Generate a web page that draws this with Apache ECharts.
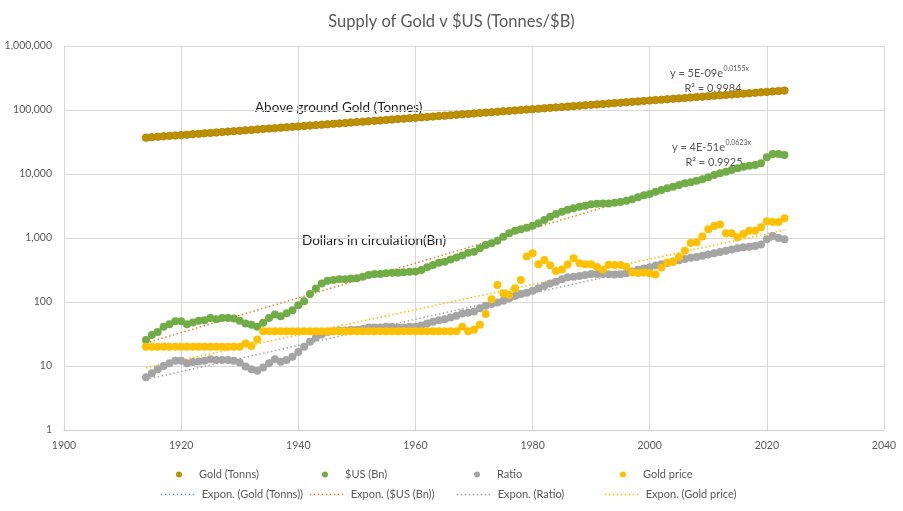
<!DOCTYPE html>
<html>
<head>
<meta charset="utf-8">
<script src="https://cdn.jsdelivr.net/npm/echarts@6/dist/echarts.min.js"></script>
<style>
html,body{margin:0;padding:0;background:#fff;}
#chart{width:903px;height:511px;}
</style>
</head>
<body>
<div id="chart"></div>
<script>
// ---- data ----
const startYear = 1914; // 1914 .. 2023, one value per year
const goldTonnes = [
37000,37600,38200,38800,39400,40000,40600,41200,41900,42500,
43200,43900,44500,45200,46000,46700,47400,48200,48900,49700,
50500,51200,52000,52900,53700,54500,55400,56200,57100,58000,
58900,59800,60800,61700,62700,63700,64700,65700,66700,67800,
68800,69900,71000,72100,73200,74400,75500,76700,77900,79100,
80400,81600,82900,84200,85500,86900,88200,89600,91000,92400,
93900,95400,96900,98400,99900,101500,103100,104700,106300,108000,
109700,111400,113100,114900,116700,118500,120400,122300,124200,126100,
128100,130100,132100,134200,136300,138400,140600,142800,145000,147300,
149600,151900,154300,156700,159200,161700,164200,166800,169400,172000,
174700,177400,180200,183000,185900,188800,191700,194700,197800,201000
];
const usBn = [
25.5,30.5,34,41,45,50,50,45,48,51,
52,56,54,56,56,55,51,46,44,41,
47.5,56,64,60,66.5,74,89,103,133,163,
195,214,220,226,226,232,234,249,264,275,
275,281,287,287,291,298,300,316,349,378,
411,427,460,495,535,589,611,690,777,826,
908,1048,1183,1303,1366,1448,1556,1698,1906,2154,
2371,2573,2754,2913,3090,3200,3360,3420,3450,3450,
3560,3650,3830,4020,4320,4640,4870,5300,5620,5970,
6340,6720,7150,7410,7870,8260,8880,9640,10240,10870,
11550,12270,13030,13500,13800,14700,18200,20500,20500,19800
];
const ratio = [
6.7,7.7,8.9,10,11,12.1,12.1,11,11.5,11.8,
12.1,12.7,12.4,12.4,12.4,12.1,11.3,9.8,8.9,8.4,
9.5,11,12.7,11.7,12.4,14,16.5,20,24,28,
31,34,35,36,36,37,37,38,40,40,
40,41,41,40,40,41,41,43,46,49,
52,54,57,61,66,68,71,80,87,93,
98,105,114,124,133,140,150,164,178,195,
208,226,243,249,255,264,274,274,274,272,
270,272,281,300,318,335,350,372,390,408,
430,450,470,490,505,530,550,580,605,630,
660,690,716,733,750,790,954,1075,1000,960
];
const goldPrice = [
20,20,20,20,20,20,20,20,20,20,
20,20,20,20,20,20,20,22.5,20.5,26,
35,35,35,35,35,35,35,35,35,35,
35,35,35,35,35,35,35,35,35,35,
35,35,35,35,35,35,35,35,35,35,
35,35,35,35,41,35,37,44,65,110,
185,137,130,164,221,515,580,388,453,375,
305,322,385,481,402,388,388,352,322,383,
378,377,355,290,284,288,282,270,346,415,
420,505,634,835,862,1060,1366,1540,1625,1182,
1182,1025,1155,1296,1296,1468,1830,1775,1775,2030
];
const xTicks = {min: 1900, max: 2040, interval: 20};
const yRange = {min: 1, max: 1000000};

const seriesDefs = [
  {name: 'Gold (Tonns)', values: goldTonnes, color: '#BF9000', trend: 'Expon. (Gold (Tonns))', trendColor: '#5B9BD5'},
  {name: '$US (Bn)', values: usBn, color: '#70AD47', trend: 'Expon. ($US (Bn))', trendColor: '#ED7D31'},
  {name: 'Ratio', values: ratio, color: '#A5A5A5', trend: 'Expon. (Ratio)', trendColor: '#A5A5A5'},
  {name: 'Gold price', values: goldPrice, color: '#FFC000', trend: 'Expon. (Gold price)', trendColor: '#FFC000'}
];

// exponential least-squares fit (Excel "Expon." trendline)
function expFit(vals) {
  let n = 0, sx = 0, sy = 0, sxx = 0, sxy = 0;
  vals.forEach((v, i) => {
    const x = startYear + i, y = Math.log(v);
    n++; sx += x; sy += y; sxx += x * x; sxy += x * y;
  });
  const b = (n * sxy - sx * sy) / (n * sxx - sx * sx);
  const lnA = (sy - b * sx) / n;
  return {b, lnA};
}

const FONT = 'Lato, "Open Sans", sans-serif';
const series = [];
// trend lines first (drawn beneath the markers)
seriesDefs.forEach(d => {
  const f = expFit(d.values);
  const pts = d.values.map((v, i) => {
    const x = startYear + i;
    return [x, Math.exp(f.lnA + f.b * x)];
  });
  series.push({
    name: d.trend, type: 'line', data: pts, symbol: 'none', showSymbol: false,
    lineStyle: {color: d.trendColor, width: 1.5, type: [1.5, 2.5], cap: 'butt'},
    itemStyle: {color: d.trendColor},
    silent: true, z: 2
  });
});
seriesDefs.forEach(d => {
  series.push({
    name: d.name, type: 'scatter',
    data: d.values.map((v, i) => [startYear + i, v]),
    symbol: 'circle', symbolSize: d.name === 'Gold (Tonns)' ? 7.5 : 8,
    itemStyle: {color: d.color, opacity: 1,
      borderColor: d.name === 'Gold (Tonns)' ? '#A88000' : d.color, borderWidth: d.name === 'Gold (Tonns)' ? 0.8 : 0},
    z: 3
  });
});

const legendText = {color: '#595959', fontSize: 11, fontFamily: FONT};
const row1Left = [176, 322, 474, 620];
const row2Left = [160, 309, 456, 604];
const legends = [];
seriesDefs.forEach((d, i) => {
  legends.push({data: [d.name], left: row1Left[i], top: 469, itemWidth: 30, itemHeight: 6,
    icon: 'circle', itemGap: 0, textStyle: legendText, selectedMode: false, padding: 0,
    itemStyle: {borderWidth: 0}});
  legends.push({data: [d.trend], left: row2Left[i], top: 489, itemWidth: 36, itemHeight: 8,
    itemGap: 0, textStyle: legendText, selectedMode: false, padding: 0,
    itemStyle: {opacity: 0}, lineStyle: {width: 1.5}});
});

const gray = '#595959';
const option = {
  backgroundColor: '#ffffff',
  animation: false,
  title: {
    text: 'Supply of Gold v $US (Tonnes/$B)', left: 'center', top: 8,
    textStyle: {color: gray, fontSize: 16.5, fontWeight: 'normal', fontFamily: FONT}
  },
  legend: legends,
  grid: {left: 64, right: 19, top: 46, bottom: 81, containLabel: false},
  xAxis: {
    type: 'value', min: xTicks.min, max: xTicks.max, interval: xTicks.interval,
    axisLine: {show: true, lineStyle: {color: '#D0D0D0', width: 1}},
    axisTick: {show: false},
    splitLine: {show: true, lineStyle: {color: '#D9D9D9', width: 1}},
    axisLabel: {color: gray, fontSize: 10.5, fontFamily: FONT, margin: 10, formatter: v => String(v)}
  },
  yAxis: {
    type: 'log', logBase: 10, min: yRange.min, max: yRange.max,
    axisLine: {show: false}, axisTick: {show: false},
    splitLine: {show: true, lineStyle: {color: '#D9D9D9', width: 1}},
    axisLabel: {color: gray, fontSize: 10.5, fontFamily: FONT, margin: 12,
      formatter: v => Math.round(v).toLocaleString('en-US')}
  },
  graphic: [
    {type: 'text', left: 255, top: 101, style: {text: 'Above ground Gold (Tonnes)', fill: '#1f1f1f', font: '13.5px ' + FONT}},
    {type: 'text', left: 302, top: 234, style: {text: 'Dollars in circulation(Bn)', fill: '#1f1f1f', font: '13.5px ' + FONT}},
    {type: 'text', x: 723, y: 73, style: {text: 'y = 5E-09e', fill: gray, font: '11px ' + FONT, align: 'right', verticalAlign: 'middle'}},
    {type: 'text', x: 723.5, y: 69, style: {text: '0.0155x', fill: gray, font: '7px ' + FONT, align: 'left', verticalAlign: 'middle'}},
    {type: 'text', x: 713, y: 88, style: {text: 'R² = 0.9984', fill: gray, font: '11px ' + FONT, align: 'center', verticalAlign: 'middle'}},
    {type: 'text', x: 725, y: 147, style: {text: 'y = 4E-51e', fill: gray, font: '11px ' + FONT, align: 'right', verticalAlign: 'middle'}},
    {type: 'text', x: 725.5, y: 143, style: {text: '0.0623x', fill: gray, font: '7px ' + FONT, align: 'left', verticalAlign: 'middle'}},
    {type: 'text', x: 714, y: 162, style: {text: 'R² = 0.9925', fill: gray, font: '11px ' + FONT, align: 'center', verticalAlign: 'middle'}}
  ],
  series: series
};

const chart = echarts.init(document.getElementById('chart'), null, {renderer: 'canvas'});
chart.setOption(option);
</script>
</body>
</html>
